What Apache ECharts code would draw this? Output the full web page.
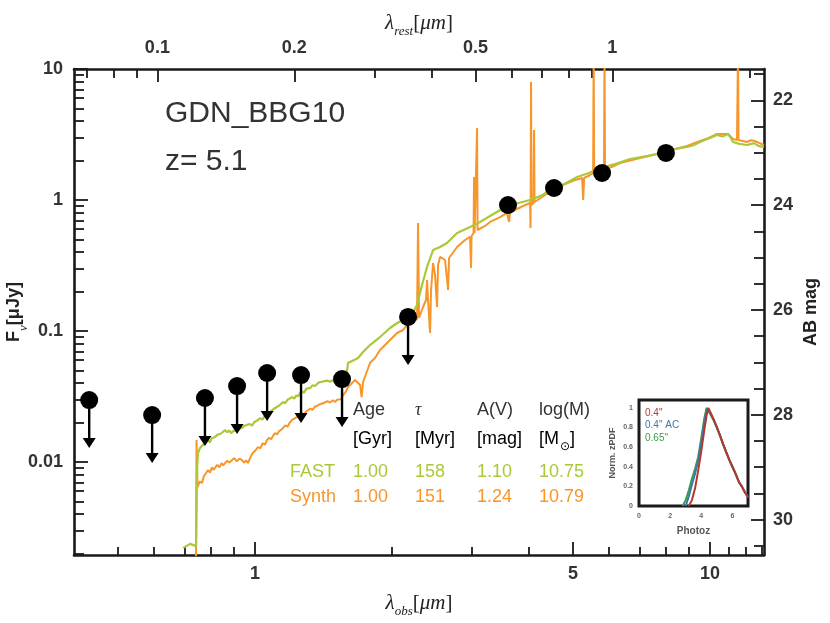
<!DOCTYPE html>
<html>
<head>
<meta charset="utf-8">
<title>GDN_BBG10 SED</title>
<script src="https://cdn.jsdelivr.net/npm/echarts@6/dist/echarts.min.js"></script>
<style>
  html, body { margin: 0; padding: 0; background: #fff; }
  #main { width: 830px; height: 623px; }
</style>
</head>
<body>
<div id="main"></div>
<script>
// ---- photometry (observed wavelength in micron, flux in microJy) ----
var obsLam  = [0.432, 0.594, 0.776, 0.913, 1.063, 1.262, 1.553, 2.169, 3.597, 4.54, 5.79, 8.0];
var obsFlux = [0.0297, 0.0228, 0.0308, 0.038, 0.0478, 0.0461, 0.043, 0.128, 0.916, 1.235, 1.607, 2.285];
var isLimit = [1, 1, 1, 1, 1, 1, 1, 1, 0, 0, 0, 0];

// ---- FAST best-fit template ----
var fastLam  = [0.695, 0.720, 0.742, 0.7455, 0.749,
                0.757, 0.766, 0.773, 0.781, 0.788, 0.796, 0.803, 0.810, 0.817, 0.826,
                0.834, 0.842, 0.850, 0.859, 0.868, 0.877, 0.886, 0.895, 0.904, 0.913,
                0.922, 0.936, 0.946, 0.955, 0.965, 0.975, 0.985, 0.995, 1.005, 1.015,
                1.027, 1.039, 1.051, 1.063, 1.074, 1.085, 1.096, 1.107, 1.118, 1.130,
                1.141, 1.152, 1.165, 1.179, 1.192, 1.206, 1.219, 1.231, 1.244, 1.256,
                1.269, 1.282, 1.295, 1.308, 1.323, 1.338, 1.354, 1.369, 1.383, 1.397,
                1.411, 1.425, 1.443, 1.462, 1.481, 1.500, 1.519, 1.538, 1.557, 1.577,
                1.590, 1.601,
                1.685, 1.719, 1.789, 1.882, 1.980, 2.052, 2.158, 2.225, 2.270, 2.328,
                2.388, 2.462, 2.550, 2.642, 2.780, 2.969, 3.123, 3.285, 3.579,
                4.022, 4.26, 4.519, 4.80, 5.103, 5.40, 5.733, 6.18, 6.673, 7.30,
                7.962, 8.40, 8.904, 9.20, 9.506, 9.90, 10.36, 10.65, 10.96, 11.1,
                11.23, 11.6, 12.06, 12.5, 12.8, 13.14];
var fastFlux = [0.00221, 0.00237, 0.00228, 0.00869, 0.01172,
                0.0128, 0.0134, 0.0131, 0.0142, 0.01473, 0.0141, 0.0152, 0.0149, 0.01552, 0.0161,
                0.0156, 0.0165, 0.0170, 0.01755, 0.0169, 0.0174, 0.0166, 0.0172, 0.01694, 0.0178,
                0.0172, 0.01819, 0.0188, 0.0183, 0.0193, 0.0195, 0.0189, 0.0201, 0.0198, 0.02093,
                0.0216, 0.0211, 0.0226, 0.02366, 0.0231, 0.0246, 0.0241, 0.02583, 0.0253, 0.0270,
                0.0265, 0.02871, 0.0281, 0.0299, 0.0305, 0.03133, 0.0305, 0.0322, 0.0318, 0.03362,
                0.0345, 0.0338, 0.0362, 0.03738, 0.0368, 0.0386, 0.0380, 0.0394, 0.0405, 0.0398,
                0.0412, 0.04081, 0.0418, 0.0410, 0.0422, 0.0401, 0.0407, 0.0392, 0.0398, 0.03802,
                0.0385, 0.0570,
                0.06223, 0.06792, 0.07816, 0.08995, 0.1054, 0.1151, 0.1257, 0.1397, 0.1579, 0.2245,
                0.3081, 0.4151, 0.4377, 0.4697, 0.56, 0.6223, 0.6797, 0.7551, 0.90,
                1.0, 1.08, 1.235, 1.33, 1.499, 1.60, 1.754, 1.88, 2.056, 2.17,
                2.324, 2.45, 2.541, 2.62, 2.773, 2.93, 3.134, 3.05, 3.19, 3.0,
                2.773, 2.68, 2.63, 2.72, 2.58, 2.541];

// ---- synthetic (mock) spectrum, with emission lines ----
var synthLam  = [0.7417, 0.7436,
                 0.7474, 0.7560, 0.7647, 0.7720, 0.7800, 0.7884, 0.7960, 0.8040, 0.8100, 0.8168,
                 0.8260, 0.8350, 0.8440, 0.8520, 0.8592, 0.8680, 0.8780, 0.8902, 0.9000, 0.9120,
                 0.9240, 0.9364, 0.9460, 0.9560, 0.9652, 0.9760, 0.9880, 1.0010, 1.0153, 1.0270,
                 1.0390, 1.0510, 1.0626, 1.0740, 1.0850, 1.0960, 1.1066, 1.1180, 1.1290, 1.1410,
                 1.1523, 1.1650, 1.1790, 1.1920, 1.2058, 1.2180, 1.2310, 1.2440, 1.2557, 1.2690,
                 1.2820, 1.2950, 1.3076, 1.3230, 1.3380, 1.3530, 1.3686, 1.3830, 1.3970, 1.4110,
                 1.4249, 1.4430, 1.4620, 1.4810, 1.4995, 1.5150, 1.5300, 1.5460, 1.5614, 1.5800,
                 1.6014,
                 1.6591, 1.7016, 1.7146, 1.7277, 1.7888, 1.8351, 1.8822, 1.98,
                 2.0517, 2.1149, 2.1583, 2.2137, 2.2699, 2.2815, 2.2931, 2.3399, 2.3759, 2.3878,
                 2.40, 2.4245, 2.4368, 2.4616, 2.4866, 2.5119, 2.5246, 2.5502, 2.6158, 2.6558,
                 2.6694, 2.7797, 2.8943, 2.9685, 2.9836, 2.9912, 3.0217, 3.0294, 3.0371, 3.0679,
                 3.0757, 3.0835, 3.2028, 3.2849, 3.4552, 3.5793, 3.6158, 3.6341, 3.7662, 3.8815,
                 4.0216, 4.0318, 4.042, 4.0522, 4.0936, 4.104, 4.1144, 4.34, 4.5188, 4.8017,
                 5.0512, 5.2342, 5.2608, 5.2874, 5.4514, 5.535, 5.549, 5.5631, 5.8479, 5.8628,
                 5.8777, 6.342, 7.0197, 7.5, 8.0019, 8.45, 8.9043, 9.506, 9.9, 10.361,
                 10.955, 11.232, 11.462, 11.521, 11.55, 12.058, 12.3, 12.557, 13.141];
var synthFlux = [0.0019, 0.01473,
                 0.00644, 0.0071, 0.00691, 0.0078, 0.0082, 0.00869, 0.0083, 0.0091, 0.0087, 0.0090,
                 0.0095, 0.0091, 0.0098, 0.0094, 0.00982, 0.0102, 0.0099, 0.01035, 0.0107, 0.0101,
                 0.0106, 0.01035, 0.0099, 0.0103, 0.00982, 0.0108, 0.0117, 0.0122, 0.01302, 0.0127,
                 0.0139, 0.0136, 0.01473, 0.0153, 0.0149, 0.0159, 0.01665, 0.0162, 0.0172, 0.0176,
                 0.01819, 0.0190, 0.0186, 0.0200, 0.02093, 0.0204, 0.0218, 0.0224, 0.02284, 0.0236,
                 0.0231, 0.0243, 0.02495, 0.0256, 0.0250, 0.0264, 0.02675, 0.0275, 0.0269, 0.0281,
                 0.0282, 0.0291, 0.0284, 0.0296, 0.02871, 0.0299, 0.0308, 0.0302, 0.03245, 0.0340,
                 0.03738,
                 0.04225, 0.03873, 0.03133, 0.04081, 0.0570, 0.06223, 0.07161, 0.08531,
                 0.09656, 0.1018, 0.1111, 0.1172, 0.1235, 0.6677, 0.1257, 0.1525, 0.1724, 0.2451,
                 0.1724, 0.09656, 0.2056, 0.3304, 0.2675, 0.1525, 0.319, 0.3673, 0.3483, 0.2056,
                 0.3606, 0.4377, 0.4952, 0.5223, 0.3027, 0.5312, 0.56, 1.499, 0.56, 0.5799,
                 3.546, 0.5902, 0.6336, 0.6797, 0.7413, 0.7962, 0.6797, 0.8098, 0.8535, 0.90,
                 0.9487, 0.6111, 7.96, 0.9162, 0.9487, 3.422, 0.966, 1.092, 1.192, 1.325,
                 1.421, 1.472, 1.0, 1.472, 1.552, 1.607, 14, 1.636, 1.694, 14,
                 1.694, 1.915, 2.094, 2.20, 2.324, 2.47, 2.584, 2.818, 2.96, 3.19,
                 3.19, 2.922, 2.871, 14, 2.871, 2.773, 2.86, 2.818, 2.63];

// ---- axis ticks ----
var obsMajor  = [1, 5, 10];
var obsMinor  = [0.5, 0.6, 0.7, 0.8, 0.9, 2, 3, 4, 6, 7, 8, 9, 11, 12, 13];
var restMajor = [0.1, 0.2, 0.5, 1];
var restMinor = [0.07, 0.08, 0.09, 0.3, 0.4, 0.6, 0.7, 0.8, 0.9, 2];
var fluxMajor = [0.01, 0.1, 1, 10];
var fluxMinor = [0.002, 0.003, 0.004, 0.005, 0.006, 0.007, 0.008, 0.009,
                 0.02, 0.03, 0.04, 0.05, 0.06, 0.07, 0.08, 0.09,
                 0.2, 0.3, 0.4, 0.5, 0.6, 0.7, 0.8, 0.9,
                 2, 3, 4, 5, 6, 7, 8, 9];
var magMajor  = [22, 24, 26, 28, 30];
var magMinor  = [21.5, 22.5, 23, 23.5, 24.5, 25, 25.5, 26.5, 27, 27.5, 28.5, 29, 29.5, 30.5];

// ---- fit parameters table ----
var paramNames = ['Age', 'τ', 'A(V)', 'log(M)'];
var paramUnits = ['[Gyr]', '[Myr]', '[mag]', '[M{sub|⊙}]'];
var fastParams  = ['1.00', '158', '1.10', '10.75'];
var synthParams = ['1.00', '151', '1.24', '10.79'];

// ---- inset: photo-z PDFs ----
var zGrid   = [2.8, 3.0, 3.2, 3.4, 3.6, 3.8, 4.0, 4.2, 4.35, 4.45, 4.6, 4.8, 5.0, 5.2, 5.4, 5.6, 5.8, 6.0, 6.2, 6.4, 6.6, 6.8, 7.0];
var pdf04   = [null, null, 0, 0.06, 0.18, 0.36, 0.56, 0.78, 0.93, 1.0, 0.95, 0.88, 0.8, 0.72, 0.63, 0.55, 0.47, 0.40, 0.33, 0.25, 0.2, 0.14, 0.09];
var pdf04ac = [null, 0, 0.1, 0.22, 0.33, 0.46, 0.65, 0.86, 0.99, 0.99, 0.94, 0.88, 0.8, 0.72, 0.63, 0.55, 0.47, 0.40, 0.33, 0.25, 0.2, 0.14, 0.09];
var pdf065  = [0, 0.06, 0.16, 0.28, 0.38, 0.5, 0.69, 0.9, 1.0, 0.97, 0.93, 0.87, 0.8, 0.72, 0.63, 0.55, 0.47, 0.40, 0.33, 0.25, 0.2, 0.14, 0.09];

var REDSHIFT = 5.1;
var X_MIN = 0.4, X_MAX = 13.14;
var Y_MIN = 0.00195, Y_MAX = 10;
var magTop = 23.9 - 2.5 * Math.log10(Y_MAX);
var magBottom = 23.9 - 2.5 * Math.log10(Y_MIN);

var GREEN = '#a9c93a', ORANGE = '#f8962a';
var SANS = "'Liberation Sans', Arial, sans-serif";
var SERIF = "'Liberation Serif', 'DejaVu Serif', serif";
var AXIS_COLOR = '#1a1a1a';

function zip(xs, ys) {
    var out = [];
    for (var i = 0; i < xs.length; i++) out.push([xs[i], ys[i]]);
    return out;
}

var pointData = [], limitData = [];
for (var i = 0; i < obsLam.length; i++) {
    pointData.push([obsLam[i], obsFlux[i]]);
    if (isLimit[i]) limitData.push([obsLam[i], obsFlux[i]]);
}

// tick helpers
function ticks(vals, len) {
    return { show: true, inside: true, length: len, customValues: vals,
             lineStyle: { color: AXIS_COLOR, width: 1.8 } };
}
function labels(vals, margin) {
    return { show: true, customValues: vals, margin: margin, color: '#333',
             fontSize: 18, fontWeight: 'bold', fontFamily: SANS };
}
var mainLine = { show: true, lineStyle: { color: AXIS_COLOR, width: 2.6 } };
var noLine = { show: false };

// rich text for math-like axis names
var mathRich = {
    l: { fontFamily: SERIF, fontStyle: 'italic', fontSize: 21, lineHeight: 22, verticalAlign: 'top', color: '#222' },
    s: { fontFamily: SERIF, fontStyle: 'italic', fontSize: 13, lineHeight: 14, padding: [12, 0, 0, 0], verticalAlign: 'top', color: '#222' },
    b: { fontFamily: SERIF, fontSize: 21, lineHeight: 22, verticalAlign: 'top', color: '#222' },
    F: { fontFamily: SANS, fontWeight: 'bold', fontSize: 18, lineHeight: 22, verticalAlign: 'top', color: '#222' }
};

var chart = echarts.init(document.getElementById('main'));

var mainRect = { left: 74, top: 69, width: 690, height: 486, containLabel: false, outerBoundsMode: 'none' };

// table graphic
var colX = [353, 415, 477, 539];
var graphics = [
    { type: 'text', x: 165, y: 114, style: { text: 'GDN_BBG10', fontSize: 30, fontFamily: SANS, fill: '#333',
        align: 'left', verticalAlign: 'middle', textAlign: 'left', textVerticalAlign: 'middle' } },
    { type: 'text', x: 165, y: 162, style: { text: 'z= 5.1', fontSize: 30, fontFamily: SANS, fill: '#333',
        align: 'left', verticalAlign: 'middle', textAlign: 'left', textVerticalAlign: 'middle' } },
    { type: 'text', x: 290, y: 472, style: { text: 'FAST', fontSize: 18, fontFamily: SANS, fill: GREEN,
        align: 'left', verticalAlign: 'middle', textAlign: 'left', textVerticalAlign: 'middle' } },
    { type: 'text', x: 290, y: 497, style: { text: 'Synth', fontSize: 18, fontFamily: SANS, fill: ORANGE,
        align: 'left', verticalAlign: 'middle', textAlign: 'left', textVerticalAlign: 'middle' } }
];
for (var c = 0; c < colX.length; c++) {
    graphics.push({ type: 'text', x: colX[c], y: 410, style: {
        text: paramNames[c], fontSize: 18, fill: '#333',
        fontFamily: paramNames[c] === 'τ' ? SERIF : SANS, fontStyle: paramNames[c] === 'τ' ? 'italic' : 'normal',
        align: 'left', verticalAlign: 'middle', textAlign: 'left', textVerticalAlign: 'middle' } });
    graphics.push({ type: 'text', x: colX[c], y: 440, style: {
        text: '{n|' + paramUnits[c].replace('{sub|⊙}', '}{sub|⊙}{n|') + '}',
        rich: {
            n: { fontSize: 18, fontFamily: SANS, color: '#333', lineHeight: 20, verticalAlign: 'top' },
            sub: { fontSize: 12, fontFamily: 'DejaVu Sans, sans-serif', color: '#333', lineHeight: 12, padding: [11, 0, 0, 1], verticalAlign: 'top' }
        },
        align: 'left', verticalAlign: 'middle', textAlign: 'left', textVerticalAlign: 'middle' } });
    graphics.push({ type: 'text', x: colX[c], y: 472, style: { text: fastParams[c], fontSize: 18, fontFamily: SANS, fill: GREEN,
        align: 'left', verticalAlign: 'middle', textAlign: 'left', textVerticalAlign: 'middle' } });
    graphics.push({ type: 'text', x: colX[c], y: 497, style: { text: synthParams[c], fontSize: 18, fontFamily: SANS, fill: ORANGE,
        align: 'left', verticalAlign: 'middle', textAlign: 'left', textVerticalAlign: 'middle' } });
}
// inset legend
var insetNames = ['0.4"', '0.4" AC', '0.65"'];
var insetColors = ['#b5382e', '#3b78a8', '#3a9e4a'];
var insetY = [413, 425, 438];
for (var k = 0; k < insetNames.length; k++) {
    graphics.push({ type: 'text', x: 645, y: insetY[k], z: 100, style: { text: insetNames[k], fontSize: 10, fontFamily: SANS,
        fill: insetColors[k], align: 'left', verticalAlign: 'middle', textAlign: 'left', textVerticalAlign: 'middle' } });
}

var option = {
    animation: false,
    backgroundColor: '#fff',
    grid: [
        mainRect,
        mainRect,
        { left: 639, top: 400, width: 109, height: 106, show: true, backgroundColor: '#fff',
          borderColor: AXIS_COLOR, borderWidth: 3, z: 10, containLabel: false, outerBoundsMode: 'none' }
    ],
    xAxis: [
        { gridIndex: 0, type: 'log', position: 'bottom', min: X_MIN, max: X_MAX,
          axisLine: mainLine, axisTick: ticks(obsMajor, 13), axisLabel: labels(obsMajor, 10),
          splitLine: { show: false }, minorTick: { show: false },
          name: '{l|λ}{s|obs}{b|[}{l|μm}{b|]}', nameLocation: 'middle', nameGap: 38, nameMoveOverlap: false,
          nameTextStyle: { rich: mathRich } },
        { gridIndex: 0, type: 'log', position: 'top', min: X_MIN / (1 + REDSHIFT), max: X_MAX / (1 + REDSHIFT),
          axisLine: mainLine, axisTick: ticks(restMajor, 13), axisLabel: labels(restMajor, 12),
          splitLine: { show: false },
          name: '{l|λ}{s|rest}{b|[}{l|μm}{b|]}', nameLocation: 'middle', nameGap: 34, nameMoveOverlap: false,
          nameTextStyle: { rich: mathRich } },
        { gridIndex: 1, type: 'log', position: 'bottom', min: X_MIN, max: X_MAX,
          axisLine: noLine, axisTick: ticks(obsMinor, 8), axisLabel: { show: false }, splitLine: { show: false } },
        { gridIndex: 1, type: 'log', position: 'top', min: X_MIN / (1 + REDSHIFT), max: X_MAX / (1 + REDSHIFT),
          axisLine: noLine, axisTick: ticks(restMinor, 9), axisLabel: { show: false }, splitLine: { show: false } },
        { gridIndex: 2, type: 'value', min: 0, max: 7,
          axisLine: { show: false }, axisTick: { show: true, inside: true, length: 4, customValues: [1, 2, 3, 4, 5, 6],
            lineStyle: { color: AXIS_COLOR, width: 1 } },
          axisLabel: { customValues: [0, 2, 4, 6], margin: 7, fontSize: 7, fontWeight: 'bold', color: '#666', fontFamily: SANS },
          splitLine: { show: false },
          name: 'Photoz', nameLocation: 'middle', nameGap: 20, nameMoveOverlap: false,
          nameTextStyle: { fontSize: 10, fontWeight: 'bold', color: '#555', fontFamily: SANS } }
    ],
    yAxis: [
        { gridIndex: 0, type: 'log', position: 'left', min: Y_MIN, max: Y_MAX,
          axisLine: mainLine, axisTick: ticks(fluxMajor, 14), axisLabel: labels(fluxMajor, 11),
          splitLine: { show: false },
          name: '{F|F}{s|ν}{F|[μJy]}', nameLocation: 'middle', nameGap: 47, nameMoveOverlap: false,
          nameTextStyle: { rich: mathRich } },
        { gridIndex: 0, type: 'value', position: 'right', inverse: true, min: magTop, max: magBottom,
          axisLine: mainLine, axisTick: ticks(magMajor, 13), axisLabel: labels(magMajor, 9),
          splitLine: { show: false },
          name: 'AB mag', nameLocation: 'middle', nameGap: 38, nameMoveOverlap: false,
          nameTextStyle: { fontSize: 18, fontWeight: 'bold', color: '#222', fontFamily: SANS } },
        { gridIndex: 1, type: 'log', position: 'left', min: Y_MIN, max: Y_MAX,
          axisLine: noLine, axisTick: ticks(fluxMinor, 10), axisLabel: { show: false }, splitLine: { show: false } },
        { gridIndex: 1, type: 'value', position: 'right', inverse: true, min: magTop, max: magBottom,
          axisLine: noLine, axisTick: ticks(magMinor, 10), axisLabel: { show: false }, splitLine: { show: false } },
        { gridIndex: 2, type: 'value', min: 0, max: 1.08,
          axisLine: { show: false },
          axisTick: { show: true, inside: true, length: 4, customValues: [0.2, 0.4, 0.6, 0.8, 1],
            lineStyle: { color: AXIS_COLOR, width: 1 } },
          axisLabel: { customValues: [0, 0.2, 0.4, 0.6, 0.8, 1], margin: 6, fontSize: 7, fontWeight: 'bold', color: '#666', fontFamily: SANS },
          splitLine: { show: false },
          name: 'Norm. zPDF', nameLocation: 'middle', nameGap: 22, nameMoveOverlap: false,
          nameTextStyle: { fontSize: 9, fontWeight: 'bold', color: '#555', fontFamily: SANS } }
    ],
    series: [
        { type: 'line', name: 'Synth', xAxisIndex: 0, yAxisIndex: 0, data: zip(synthLam, synthFlux),
          showSymbol: false, clip: true, lineStyle: { color: ORANGE, width: 2 }, z: 2 },
        { type: 'line', name: 'FAST', xAxisIndex: 0, yAxisIndex: 0, data: zip(fastLam, fastFlux),
          showSymbol: false, clip: true, lineStyle: { color: GREEN, width: 2.2 }, z: 3 },
        { type: 'custom', name: 'limits', xAxisIndex: 0, yAxisIndex: 0, data: limitData, z: 4,
          renderItem: function (params, api) {
              var p = api.coord([api.value(0), api.value(1)]);
              var len = 48, head = 10, half = 6.5;
              return {
                  type: 'group',
                  children: [
                      { type: 'line', shape: { x1: p[0], y1: p[1], x2: p[0], y2: p[1] + len - head + 1 },
                        style: { stroke: '#000', lineWidth: 2.4 } },
                      { type: 'polygon', shape: { points: [[p[0] - half, p[1] + len - head], [p[0] + half, p[1] + len - head], [p[0], p[1] + len]] },
                        style: { fill: '#000' } }
                  ]
              };
          } },
        { type: 'scatter', name: 'photometry', xAxisIndex: 0, yAxisIndex: 0, data: pointData,
          symbolSize: 18, itemStyle: { color: '#000', opacity: 1 }, z: 5 },
        { type: 'line', xAxisIndex: 4, yAxisIndex: 4, data: zip(zGrid, pdf065), showSymbol: false,
          lineStyle: { color: insetColors[2], width: 2 }, z: 11 },
        { type: 'line', xAxisIndex: 4, yAxisIndex: 4, data: zip(zGrid, pdf04ac), showSymbol: false,
          lineStyle: { color: insetColors[1], width: 2 }, z: 11 },
        { type: 'line', xAxisIndex: 4, yAxisIndex: 4, data: zip(zGrid, pdf04), showSymbol: false,
          lineStyle: { color: insetColors[0], width: 2 }, z: 11 }
    ],
    graphic: graphics
};

chart.setOption(option);
</script>
</body>
</html>
